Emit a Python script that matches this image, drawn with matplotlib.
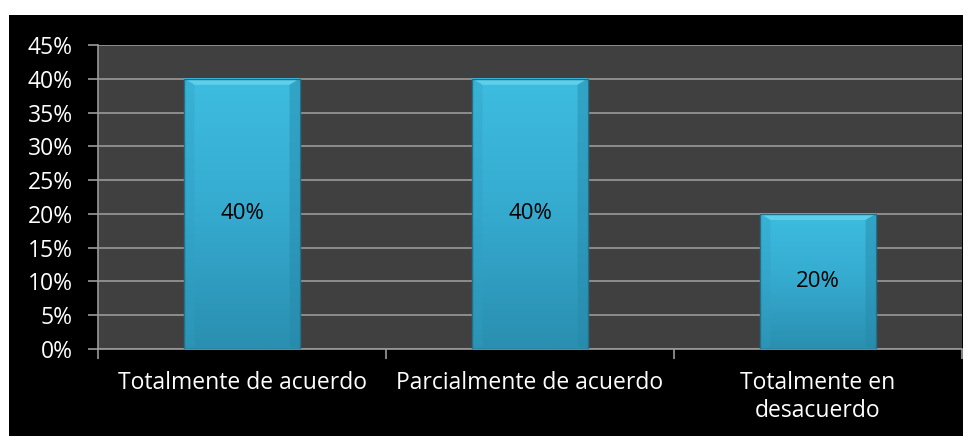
import numpy as np
import matplotlib.pyplot as plt
from matplotlib.colors import LinearSegmentedColormap
from matplotlib.patches import Rectangle, Polygon

# Data
categories = ["Totalmente de acuerdo", "Parcialmente de acuerdo", "Totalmente en\ndesacuerdo"]
values = [0.40, 0.40, 0.20]
value_labels = ["40%", "40%", "20%"]
yticks = [0, 0.05, 0.10, 0.15, 0.20, 0.25, 0.30, 0.35, 0.40, 0.45]

plt.rcParams['font.family'] = ['Open Sans', 'DejaVu Sans']

fig = plt.figure(figsize=(9.76, 4.36), dpi=100)
fig.patch.set_facecolor("white")
# black chart area
fig.patches.append(Rectangle((9 / 976, 0), (963 - 9) / 976, (436 - 15) / 436,
                             transform=fig.transFigure, facecolor="black",
                             edgecolor="none", zorder=-10))

ax = fig.add_axes([98 / 976, (436 - 349) / 436, (962 - 98) / 976, (349 - 45) / 436])
ax.set_zorder(1)
ax.set_facecolor("#404040")

x = np.arange(len(categories))
bars = ax.bar(x, values, width=0.4, color="none", edgecolor="none", zorder=3)

# gradient fill for each bar
cmap = LinearSegmentedColormap.from_list("bar", ["#2a8fb0", "#35aacf", "#3dbde0"])
grad = np.linspace(0, 1, 256).reshape(-1, 1)
for b in bars:
    x0, w, h = b.get_x(), b.get_width(), b.get_height()
    ax.imshow(grad, cmap=cmap, aspect="auto", origin="lower",
              extent=(x0, x0 + w, 0, h), zorder=3)
    # bevel: lighter top, slightly darker sides
    bx, by = 0.035, 0.009
    ax.add_patch(Polygon([(x0, h), (x0 + w, h), (x0 + w - bx, h - by), (x0 + bx, h - by)],
                         closed=True, facecolor="#5ccfeb", edgecolor="none", zorder=4))
    ax.add_patch(Polygon([(x0, 0), (x0 + bx, by * 0.4), (x0 + bx, h - by), (x0, h)],
                         closed=True, facecolor="#2f9fc2", edgecolor="none", alpha=0.35, zorder=4))
    ax.add_patch(Polygon([(x0 + w, 0), (x0 + w - bx, by * 0.4), (x0 + w - bx, h - by), (x0 + w, h)],
                         closed=True, facecolor="#2588a8", edgecolor="none", alpha=0.45, zorder=4))
    ax.add_patch(Rectangle((x0, 0), w, h, facecolor="none",
                           edgecolor="#236f88", linewidth=1.0, zorder=4))

for xi, v, lab in zip(x, values, value_labels):
    ax.text(xi, v / 2, lab, ha="center", va="center", color="black",
            fontsize=16, zorder=5)

ax.set_xlim(-0.5, len(categories) - 0.5)
ax.set_ylim(0, 0.45)
ax.set_yticks(yticks)
ax.set_yticklabels([f"{int(round(t * 100))}%" for t in yticks])
ax.grid(axis="y", color="#9a9a9a", linewidth=1.2, zorder=1)
ax.set_axisbelow(True)

ax.set_xticks(x)
ax.set_xticklabels(categories)
ax.set_xticks(np.arange(-0.5, len(categories)), minor=True)
ax.tick_params(axis="x", which="major", length=0, pad=16, labelcolor="white", labelsize=16.5)
ax.tick_params(axis="x", which="minor", length=7, color="#9a9a9a", width=1.2)
ax.tick_params(axis="y", length=7, color="#9a9a9a", width=1.2, labelcolor="white",
               labelsize=16.5, pad=11)

for s in ["top", "right"]:
    ax.spines[s].set_visible(False)
for s in ["left", "bottom"]:
    ax.spines[s].set_color("#9a9a9a")
    ax.spines[s].set_linewidth(1.2)

fig.savefig("out.png", dpi=100, facecolor=fig.get_facecolor())
